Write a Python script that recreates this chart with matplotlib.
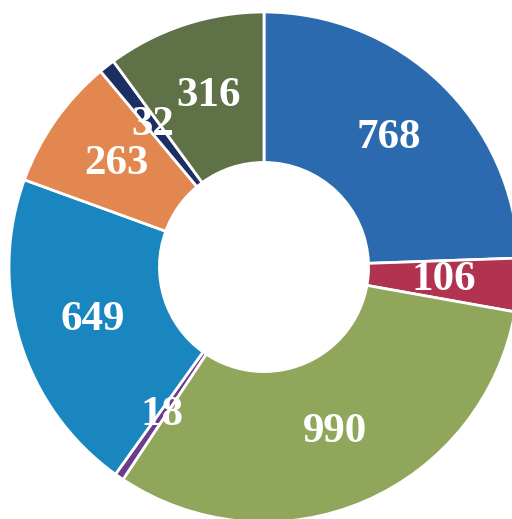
import matplotlib
matplotlib.use('Agg')
import matplotlib.pyplot as plt

# slice values, clockwise from 12 o'clock
values = [768, 106, 990, 18, 649, 263, 32, 316]
colors = ['#2b6aae', '#b1334f', '#90a65b', '#6a3c8e',
          '#1a86bf', '#e2874f', '#1c2f62', '#5f7146']

total = sum(values)

fig = plt.figure(figsize=(5.12, 5.19), dpi=100)
# donut centre ~ (264, 267) px from top-left, outer radius ~255 px
ax = fig.add_axes([9/512, -3/519, 510/512, 510/519])

wedges, texts, autotexts = ax.pie(
    values,
    colors=colors,
    startangle=90,
    counterclock=False,
    radius=1.0,
    autopct=lambda p: f'{round(p * total / 100)}',
    pctdistance=0.705,
    wedgeprops=dict(width=0.59, edgecolor='white', linewidth=2),
    textprops=dict(color='white', fontsize=31, fontweight='bold',
                   family='Liberation Serif'),
)

ax.set_xlim(-1, 1)
ax.set_ylim(-1, 1)
ax.set_aspect('equal')
ax.axis('off')

fig.savefig('out.png', dpi=100)
